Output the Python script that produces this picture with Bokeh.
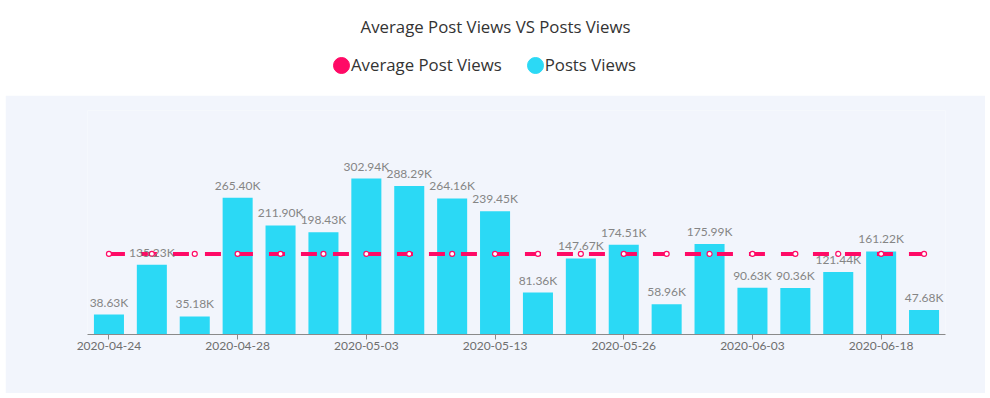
from bokeh.plotting import figure
from bokeh.models import (ColumnDataSource, Range1d, FixedTicker, Legend, LegendItem,
                          LabelSet, Label, Spacer)
from bokeh.core.properties import value
from bokeh.layouts import column, row
from bokeh.embed import file_html
from bokeh.resources import INLINE

# ---- data ----
dates = ["2020-04-24", "2020-04-25", "2020-04-27", "2020-04-28", "2020-04-30",
         "2020-05-01", "2020-05-03", "2020-05-06", "2020-05-10", "2020-05-13",
         "2020-05-17", "2020-05-21", "2020-05-26", "2020-05-28", "2020-05-31",
         "2020-06-03", "2020-06-08", "2020-06-13", "2020-06-18", "2020-06-22"]
posts_views = [38630, 135230, 35180, 265400, 211900, 198430, 302940, 288290, 264160, 239450,
               81360, 147670, 174510, 58960, 175990, 90630, 90360, 121440, 161220, 47680]
average_post_views = 156470
shown_ticks = [0, 3, 6, 9, 12, 15, 18]

PINK = "#ff0a66"
CYAN = "#2bd9f5"
BG = "#f2f5fc"
FONT = "Lato"
HFONT = "Open Sans"

n = len(dates)
src = ColumnDataSource(dict(
    x=list(range(n)),
    views=posts_views,
    label=[f"{v/1000:.2f}K" for v in posts_views],
    avg=[average_post_views] * n,
))

# ---- header (title + legend) ----
top = figure(width=985, height=95, x_range=Range1d(0, 1), y_range=Range1d(0, 1),
             output_backend="svg", toolbar_location=None, min_border=0,
             outline_line_color=None)
top.axis.visible = False
top.grid.visible = False
top.add_layout(Label(x=495, y=69, x_units="screen", y_units="screen",
                     text="Average Post Views VS Posts Views", text_align="center",
                     text_baseline="middle", text_font=HFONT, text_font_size="16.8px",
                     text_color="#333333"))
# legend proxies (their data lies outside this header's visible range)
r1 = top.ellipse(x="x", y="avg", source=src, width=16, height=16,
                 width_units="screen", height_units="screen",
                 fill_color=PINK, line_color=PINK)
r2 = top.ellipse(x="x", y="views", source=src, width=16, height=16,
                 width_units="screen", height_units="screen",
                 fill_color=CYAN, line_color=CYAN)
legend = Legend(items=[LegendItem(label=value("Average Post Views"), renderers=[r1]),
                       LegendItem(label=value("Posts Views"), renderers=[r2])],
                orientation="horizontal", location=(331, 19),
                glyph_width=20, glyph_height=20, label_standoff=0, spacing=23,
                padding=0, margin=0, border_line_color=None, background_fill_alpha=0,
                label_text_font=HFONT, label_text_font_size="16.8px",
                label_text_color="#333333")
top.add_layout(legend, "center")

# ---- chart ----
p = figure(width=980, height=298, x_range=Range1d(-0.5, n - 0.5), y_range=Range1d(0, 435000),
           output_backend="svg", toolbar_location=None,
           min_border_left=82, min_border_right=40, min_border_top=15, min_border_bottom=59,
           background_fill_color=BG, border_fill_color=BG, outline_line_color=None)
p.vbar(x="x", top="views", width=0.7, source=src, fill_color=CYAN, line_color=None)
p.line(x="x", y="avg", source=src, line_color=PINK, line_width=4, line_dash="16 16")
p.scatter(x="x", y="avg", source=src, size=5, fill_color="white", line_color=PINK, line_width=1.2)
p.add_layout(LabelSet(x="x", y="views", text="label", source=src, text_align="center",
                      text_baseline="bottom", y_offset=5, text_font_size="12px",
                      text_color="#858585", text_font=value(FONT)))

p.yaxis.visible = False
p.grid.visible = False
xa = p.xaxis[0]
xa.ticker = FixedTicker(ticks=shown_ticks)
xa.major_label_overrides = {i: d for i, d in enumerate(dates)}
xa.axis_line_color = "#8a8a8a"
xa.major_tick_line_color = "#8a8a8a"
xa.major_tick_out = 5
xa.major_tick_in = 0
xa.minor_tick_line_color = None
xa.major_label_standoff = 2
xa.major_label_text_font = FONT
xa.major_label_text_font_size = "12px"
xa.major_label_text_color = "#6e6e6e"

layout = column(top, row(Spacer(width=5, height=298), p, spacing=0), spacing=0)
open("out.html", "w").write(file_html(layout, INLINE))
